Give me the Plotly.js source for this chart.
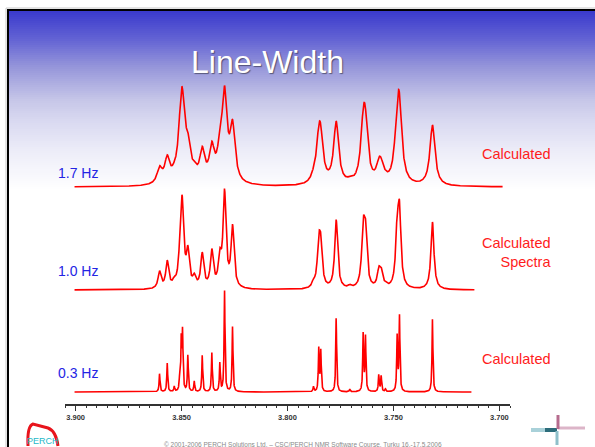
<!DOCTYPE html>
<html>
<head>
<meta charset="utf-8">
<script src="https://cdn.plot.ly/plotly-3.0.1.min.js"></script>
<style>
html,body{margin:0;padding:0;background:#fff;}
#chart{width:595px;height:447px;}
</style>
</head>
<body>
<div id="chart"></div>
<script>
// ---- data ----
// spectral lines: chemical shift (ppm) and relative intensity
const linePpm = [3.86038, 3.85675, 3.85344, 3.85094, 3.85014, 3.84953, 3.84703, 3.84401, 3.84024,
                 3.83571, 3.83193, 3.82972, 3.82594,
                 3.78774, 3.78524, 3.78429, 3.77703, 3.77061, 3.76429, 3.76321, 3.75693, 3.75580,
                 3.75377, 3.74825, 3.74717, 3.73160];
const lineIntensity = [14, 22, 4, 8, 38, 44, 28, 8, 28,
                       30, 22, 78, 50,
                       4, 33, 31, 57, 2, 44, 42, 13, 12,
                       2, 42, 58, 56];
// the three calculated spectra
const widthLabels = ['1.7 Hz', '1.0 Hz', '0.3 Hz'];
const lineWidthHz = [1.7, 1.0, 0.3];
const windowStartPpm = [3.9005, 3.9005, 3.9005];
const windowEndPpm = [3.6985, 3.7118, 3.7132];
const rightLabels = ['Calculated', 'Calculated<br>Spectra', 'Calculated'];
const spectrometerMHz = 600;
const tickValues = [3.900, 3.850, 3.800, 3.750, 3.700];
const tickLabels = ['3.900', '3.850', '3.800', '3.750', '3.700'];
const titleText = 'Line-Width';
const footerText = '\u00a9 2001-2006 PERCH Solutions Ltd. \u2013 CSC/PERCH NMR Software Course, Turku 16.-17.5.2006';

// ---- geometry helpers (pixel -> paper) ----
const W = 595, H = 447;
const M = {l: 65, r: 85, t: 80, b: 43};
const PW = W - M.l - M.r, PH = H - M.t - M.b;
const px = x => (x - M.l) / PW;
const py = y => (H - M.b - y) / PH;

const offsets = [2.0, 0.995, 0.0];
const scale = 0.99;
const step = 0.00005;

function spectrum(k) {
  const hw = lineWidthHz[k] / spectrometerMHz / 2;
  const xs = [], ys = [];
  for (let v = windowStartPpm[k]; v >= windowEndPpm[k]; v -= step) {
    let s = 0;
    for (let i = 0; i < linePpm.length; i++) {
      const d = v - linePpm[i];
      s += lineIntensity[i] * hw * hw / (d * d + hw * hw);
    }
    xs.push(v); ys.push(s);
  }
  const mx = Math.max(...ys);
  return {x: xs, y: ys.map(v => offsets[k] + scale * v / mx)};
}

const traces = [0, 1, 2].map(k => {
  const s = spectrum(k);
  return {type: 'scatter', mode: 'lines', x: s.x, y: s.y,
          line: {color: '#ff0000', width: 1.6}, hoverinfo: 'skip', showlegend: false};
});

// ---- background gradient header ----
const stops = [[11, [58, 58, 204]], [40, [100, 100, 212]], [67, [150, 150, 218]], [100, [198, 198, 232]],
               [120, [216, 216, 240]], [150, [236, 236, 248]], [190, [255, 255, 255]]];
function colAt(y) {
  for (let i = 0; i < stops.length - 1; i++) {
    const [y0, c0] = stops[i], [y1, c1] = stops[i + 1];
    if (y >= y0 && y <= y1) {
      const t = (y - y0) / (y1 - y0);
      return 'rgb(' + c0.map((c, j) => Math.round(c + (c1[j] - c) * t)).join(',') + ')';
    }
  }
  return '#ffffff';
}
const shapes = [];
for (let y = 11; y < 190; y += 2) {
  shapes.push({type: 'rect', xref: 'paper', yref: 'paper', layer: 'below',
               x0: px(9), x1: px(595), y0: py(y + 2.2), y1: py(y),
               fillcolor: colAt(y + 1), line: {width: 0}});
}
// frame
shapes.push({type: 'line', xref: 'paper', yref: 'paper', x0: px(6), x1: px(6), y0: py(8), y1: py(447), line: {color: '#c8c8c8', width: 1}});
shapes.push({type: 'line', xref: 'paper', yref: 'paper', x0: px(6), x1: px(595), y0: py(8), y1: py(8), line: {color: '#c8c8c8', width: 1}});
shapes.push({type: 'line', xref: 'paper', yref: 'paper', x0: px(8), x1: px(8), y0: py(9), y1: py(447), line: {color: '#000', width: 2}});
shapes.push({type: 'line', xref: 'paper', yref: 'paper', x0: px(7), x1: px(595), y0: py(10), y1: py(10), line: {color: '#000', width: 2}});
// PERCH logo arc
shapes.push({type: 'path', xref: 'paper', yref: 'paper',
  path: `M ${px(28)} ${py(446)} Q ${px(27)} ${py(426)} ${px(33)} ${py(424)} L ${px(48)} ${py(428)} Q ${px(56)} ${py(431)} ${px(58)} ${py(446)}`,
  line: {color: '#e8141c', width: 3}});
// right logo cross
shapes.push({type: 'line', xref: 'paper', yref: 'paper', x0: px(531), x1: px(545), y0: py(430), y1: py(430), line: {color: '#a9d1d9', width: 4}});
shapes.push({type: 'line', xref: 'paper', yref: 'paper', x0: px(545), x1: px(557), y0: py(430), y1: py(430), line: {color: '#2c6c7a', width: 4}});
shapes.push({type: 'line', xref: 'paper', yref: 'paper', x0: px(558), x1: px(585), y0: py(428), y1: py(428), line: {color: '#dcb5c8', width: 3}});
shapes.push({type: 'line', xref: 'paper', yref: 'paper', x0: px(558), x1: px(558), y0: py(415), y1: py(429), line: {color: '#b66c8e', width: 3}});
shapes.push({type: 'line', xref: 'paper', yref: 'paper', x0: px(557), x1: px(557), y0: py(431), y1: py(445), line: {color: '#8fc0ca', width: 3}});

// ---- annotations ----
const font = 'Arial, "Liberation Sans", sans-serif';
const annotations = [];
annotations.push({xref: 'paper', yref: 'paper', x: px(267), y: py(62), text: titleText, showarrow: false,
  xanchor: 'center', yanchor: 'middle',
  font: {family: font, size: 32, color: '#ffffff', shadow: '1px 1px 1px rgba(0,0,0,0.45)'}});
const leftY = [173, 270.7, 372.7];
const rightY = [154, 252, 359.3];
for (let k = 0; k < 3; k++) {
  annotations.push({xref: 'paper', yref: 'paper', x: px(55.5), y: py(leftY[k]), text: widthLabels[k], showarrow: false,
    xanchor: 'left', yanchor: 'middle', font: {family: font, size: 14, color: '#2424e4'}});
  annotations.push({xref: 'paper', yref: 'paper', x: px(553), y: py(rightY[k]), text: rightLabels[k], showarrow: false,
    xanchor: 'right', yanchor: 'middle', align: 'right', font: {family: font, size: 14.5, color: '#ff1c1c'}});
}
annotations.push({xref: 'paper', yref: 'paper', x: px(303), y: py(444.5), text: footerText, showarrow: false,
  xanchor: 'center', yanchor: 'middle', font: {family: font, size: 6.5, color: '#8a8a8a'}});
annotations.push({xref: 'paper', yref: 'paper', x: px(43), y: py(441), text: 'PERCH', showarrow: false,
  xanchor: 'center', yanchor: 'middle', font: {family: font, size: 9, color: '#25b8c8'}});

const layout = {
  width: W, height: H,
  margin: M,
  paper_bgcolor: '#ffffff', plot_bgcolor: 'rgba(0,0,0,0)',
  showlegend: false,
  xaxis: {range: [3.905, 3.695], tickmode: 'array', tickvals: tickValues, ticktext: tickLabels,
          showline: true, linecolor: '#333', linewidth: 1.5, ticks: 'outside', ticklen: 5,
          tickwidth: 1.2, tickcolor: '#333', showgrid: false, zeroline: false,
          tickfont: {family: font, size: 7.5, color: '#333', weight: 'bold'},
          minor: {dtick: 0.005, tick0: 3.9, ticks: 'outside', ticklen: 2.5, tickwidth: 1, tickcolor: '#333', showgrid: false},
          fixedrange: true},
  yaxis: {range: [-0.117, 3.044], visible: false, fixedrange: true},
  shapes: shapes,
  annotations: annotations
};
Plotly.newPlot('chart', traces, layout, {staticPlot: true});
</script>
</body>
</html>
